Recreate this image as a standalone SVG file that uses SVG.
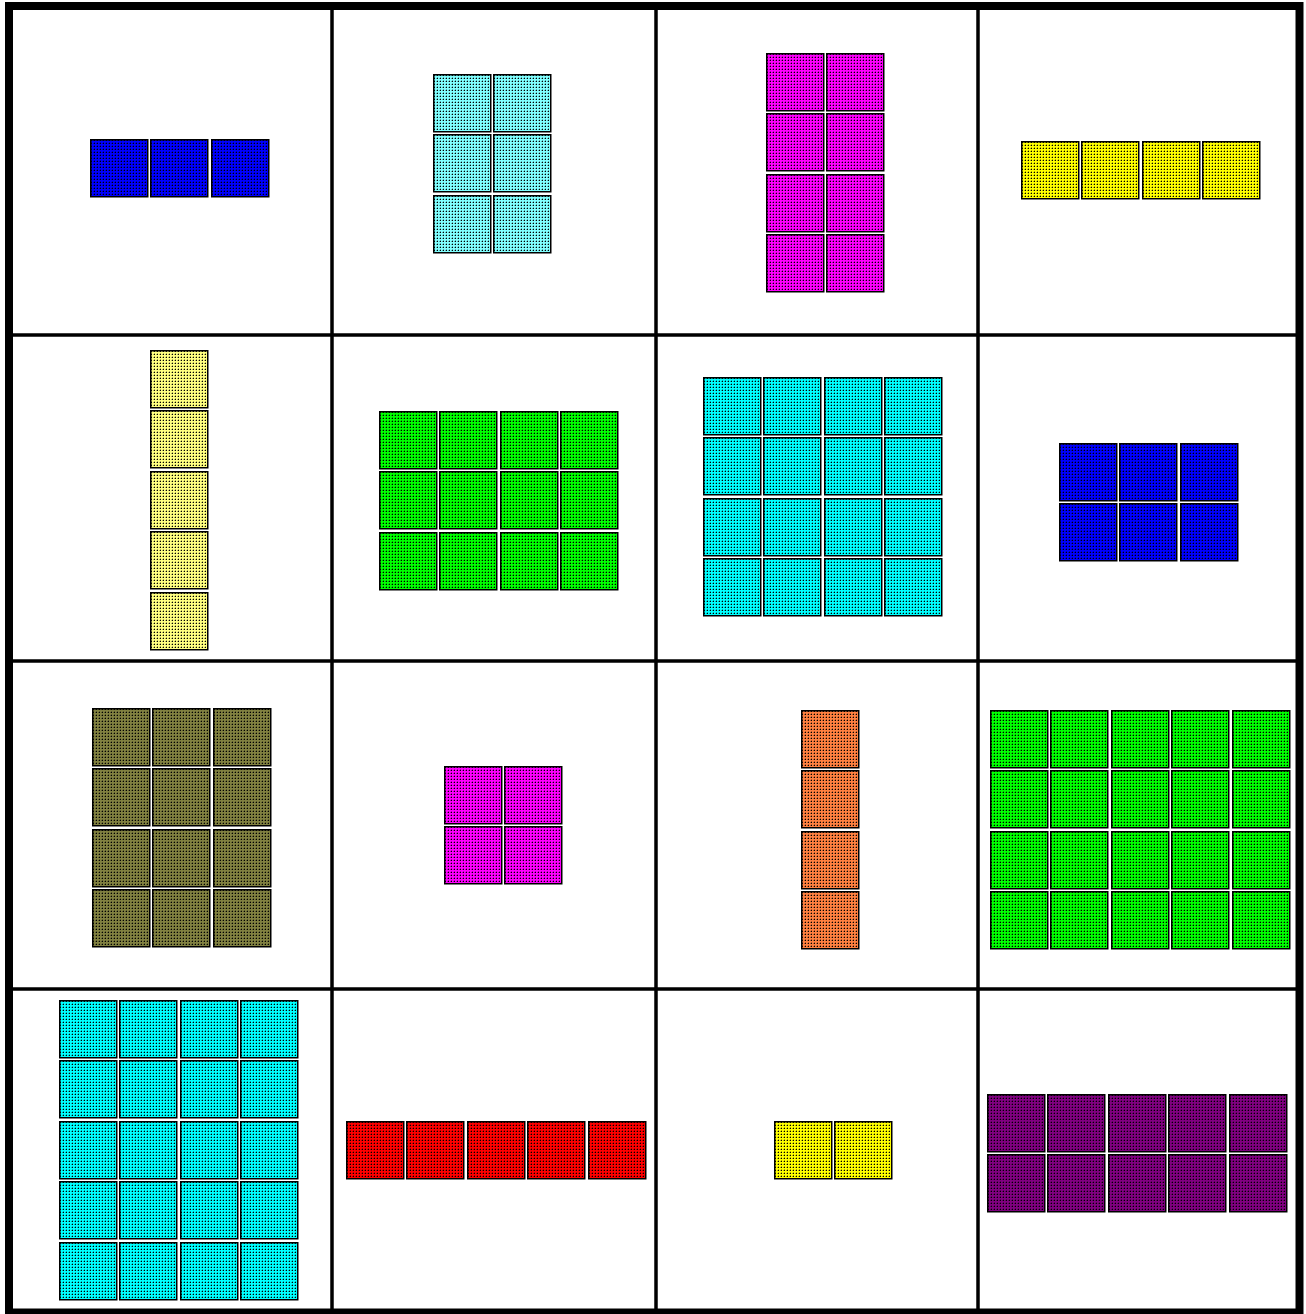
<svg xmlns="http://www.w3.org/2000/svg" xmlns:xlink="http://www.w3.org/1999/xlink" width="1306" height="1314" viewBox="0 0 1306 1314">
<style>
.grid line{stroke:#000;stroke-width:3.5}
.frame{fill:none;stroke:#000;stroke-width:8}
pattern rect{shape-rendering:crispEdges}
.d{fill:#000}
.h{fill:#000;fill-opacity:0.3}
</style>
<defs>
<g id="dots"><rect class="d" x="1" y="1" width="1" height="1"/><rect class="h" x="1" y="0" width="1" height="1"/><rect class="h" x="0" y="1" width="1" height="1"/></g>
<pattern id="p-blue" width="3" height="3" patternUnits="userSpaceOnUse"><rect width="3" height="3" fill="#0000ff"/><use href="#dots"/></pattern>
<pattern id="p-pcyan" width="3" height="3" patternUnits="userSpaceOnUse"><rect width="3" height="3" fill="#80ffff"/><use href="#dots"/></pattern>
<pattern id="p-magenta" width="3" height="3" patternUnits="userSpaceOnUse"><rect width="3" height="3" fill="#ff00ff"/><use href="#dots"/></pattern>
<pattern id="p-yellow" width="3" height="3" patternUnits="userSpaceOnUse"><rect width="3" height="3" fill="#ffff00"/><use href="#dots"/></pattern>
<pattern id="p-pyellow" width="3" height="3" patternUnits="userSpaceOnUse"><rect width="3" height="3" fill="#ffff80"/><use href="#dots"/></pattern>
<pattern id="p-green" width="3" height="3" patternUnits="userSpaceOnUse"><rect width="3" height="3" fill="#00ff00"/><use href="#dots"/></pattern>
<pattern id="p-cyan" width="3" height="3" patternUnits="userSpaceOnUse"><rect width="3" height="3" fill="#00ffff"/><use href="#dots"/></pattern>
<pattern id="p-olive" width="3" height="3" patternUnits="userSpaceOnUse"><rect width="3" height="3" fill="#808040"/><use href="#dots"/></pattern>
<pattern id="p-orange" width="3" height="3" patternUnits="userSpaceOnUse"><rect width="3" height="3" fill="#ff8040"/><use href="#dots"/></pattern>
<pattern id="p-purple" width="3" height="3" patternUnits="userSpaceOnUse"><rect width="3" height="3" fill="#800080"/><use href="#dots"/></pattern>
<pattern id="p-red" width="3" height="3" patternUnits="userSpaceOnUse"><rect width="3" height="3" fill="#ff0000"/><use href="#dots"/></pattern>
<rect id="sq" x="0.75" y="0.75" width="57" height="57" stroke="#000" stroke-width="1.5"/>
<g id="r1"><use href="#sq"/></g>
<g id="r2"><use href="#sq"/><use href="#sq" x="60"/></g>
<g id="r3"><use href="#r2"/><use href="#sq" x="121"/></g>
<g id="r4"><use href="#r3"/><use href="#sq" x="181"/></g>
<g id="r5"><use href="#r4"/><use href="#sq" x="242"/></g>
</defs>
<rect width="1306" height="1314" fill="#fff"/>
<g id="cell-1-1" fill="url(#p-blue)"><use href="#r3" x="90" y="139"/></g>
<g id="cell-1-2" fill="url(#p-pcyan)"><use href="#r2" x="433" y="74"/><use href="#r2" x="433" y="134"/><use href="#r2" x="433" y="195"/></g>
<g id="cell-1-3" fill="url(#p-magenta)"><use href="#r2" x="766" y="53"/><use href="#r2" x="766" y="113"/><use href="#r2" x="766" y="174"/><use href="#r2" x="766" y="234"/></g>
<g id="cell-1-4" fill="url(#p-yellow)"><use href="#r4" x="1021" y="141"/></g>
<g id="cell-2-1" fill="url(#p-pyellow)"><use href="#r1" x="150" y="350"/><use href="#r1" x="150" y="410"/><use href="#r1" x="150" y="471"/><use href="#r1" x="150" y="531"/><use href="#r1" x="150" y="592"/></g>
<g id="cell-2-2" fill="url(#p-green)"><use href="#r4" x="379" y="411"/><use href="#r4" x="379" y="471"/><use href="#r4" x="379" y="532"/></g>
<g id="cell-2-3" fill="url(#p-cyan)"><use href="#r4" x="703" y="377"/><use href="#r4" x="703" y="437"/><use href="#r4" x="703" y="498"/><use href="#r4" x="703" y="558"/></g>
<g id="cell-2-4" fill="url(#p-blue)"><use href="#r3" x="1059" y="443"/><use href="#r3" x="1059" y="503"/></g>
<g id="cell-3-1" fill="url(#p-olive)"><use href="#r3" x="92" y="708"/><use href="#r3" x="92" y="768"/><use href="#r3" x="92" y="829"/><use href="#r3" x="92" y="889"/></g>
<g id="cell-3-2" fill="url(#p-magenta)"><use href="#r2" x="444" y="766"/><use href="#r2" x="444" y="826"/></g>
<g id="cell-3-3" fill="url(#p-orange)"><use href="#r1" x="801" y="710"/><use href="#r1" x="801" y="770"/><use href="#r1" x="801" y="831"/><use href="#r1" x="801" y="891"/></g>
<g id="cell-3-4" fill="url(#p-green)"><use href="#r5" x="990" y="710"/><use href="#r5" x="990" y="770"/><use href="#r5" x="990" y="831"/><use href="#r5" x="990" y="891"/></g>
<g id="cell-4-1" fill="url(#p-cyan)"><use href="#r4" x="59" y="1000"/><use href="#r4" x="59" y="1060"/><use href="#r4" x="59" y="1121"/><use href="#r4" x="59" y="1181"/><use href="#r4" x="59" y="1242"/></g>
<g id="cell-4-2" fill="url(#p-red)"><use href="#r5" x="346" y="1121"/></g>
<g id="cell-4-3" fill="url(#p-yellow)"><use href="#r2" x="774" y="1121"/></g>
<g id="cell-4-4" fill="url(#p-purple)"><use href="#r5" x="987" y="1094"/><use href="#r5" x="987" y="1154"/></g>
<g id="grid" class="grid">
<line x1="332" y1="6" x2="332" y2="1312"/>
<line x1="656" y1="6" x2="656" y2="1312"/>
<line x1="978" y1="6" x2="978" y2="1312"/>
<line x1="9" y1="335" x2="1299" y2="335"/>
<line x1="9" y1="661" x2="1299" y2="661"/>
<line x1="9" y1="989" x2="1299" y2="989"/>
<rect class="frame" x="9" y="6" width="1290.5" height="1306.5"/>
</g>
</svg>
